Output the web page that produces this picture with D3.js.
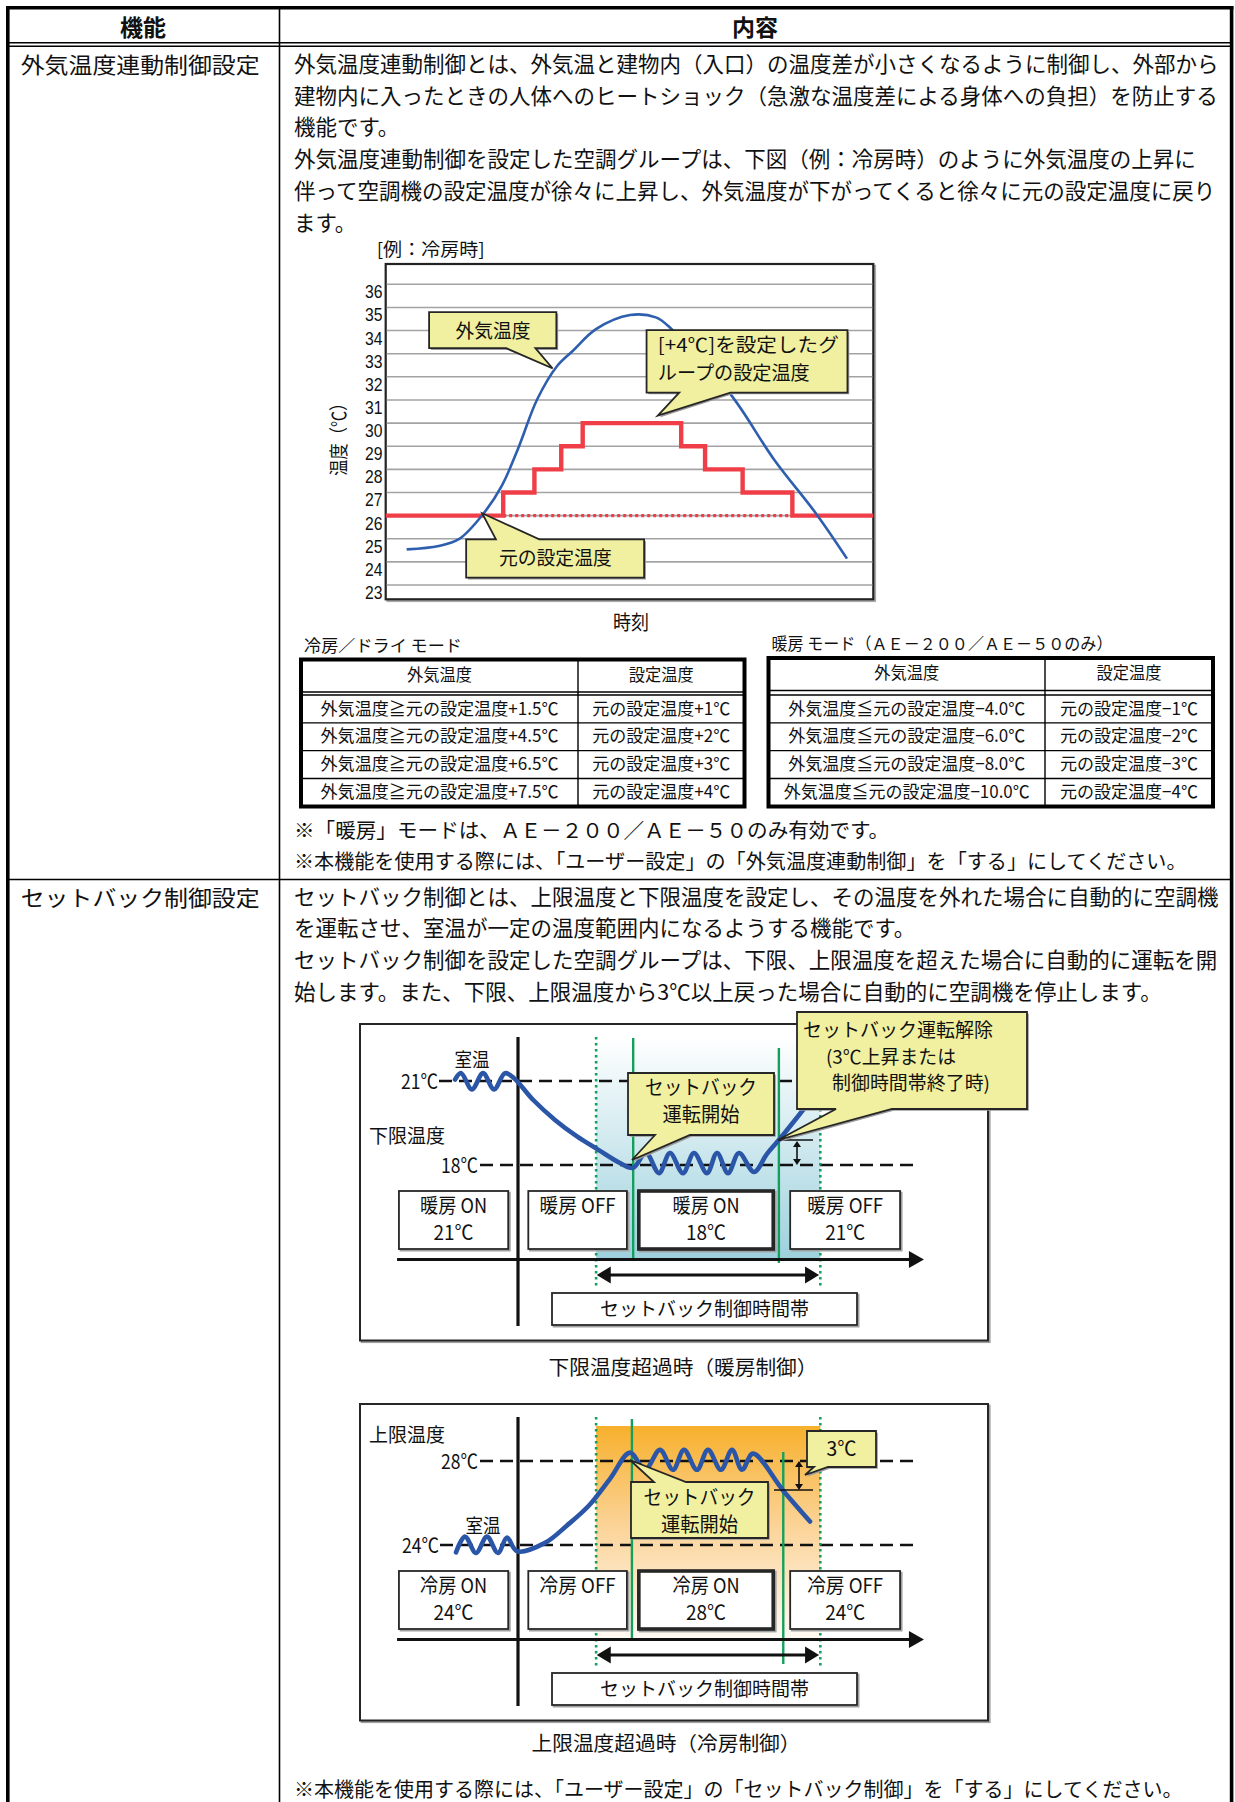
<!DOCTYPE html>
<html><head><meta charset="utf-8">
<script src="https://cdn.jsdelivr.net/npm/d3@7/dist/d3.min.js"></script>
<style>
html,body{margin:0;padding:0;background:#fff;}
svg{display:block}
text{font-family:"Noto Sans CJK JP","Noto Sans",sans-serif;fill:#111}
</style></head>
<body>
<svg id="page" width="1235" height="1802"></svg>
<script>
// ================= DATA =================
const headerLabels = ["機能", "内容"];
const featureNames = ["外気温度連動制御設定", "セットバック制御設定"];
const outdoorIntro = [
  "外気温度連動制御とは、外気温と建物内（入口）の温度差が小さくなるように制御し、外部から",
  "建物内に入ったときの人体へのヒートショック（急激な温度差による身体への負担）を防止する",
  "機能です。",
  "外気温度連動制御を設定した空調グループは、下図（例：冷房時）のように外気温度の上昇に",
  "伴って空調機の設定温度が徐々に上昇し、外気温度が下がってくると徐々に元の設定温度に戻り",
  "ます。"
];
const chartTitle = "[例：冷房時]";
const tempTicks = [23, 24, 25, 26, 27, 28, 29, 30, 31, 32, 33, 34, 35, 36];
const yAxisTitle = "温度（℃）";
const xAxisTitle = "時刻";
// outdoor temperature curve (time in % of chart width, ℃)
const outdoorTime = [4.3, 10.9, 15.0, 19.8, 23.8, 27.1, 31.1, 35.2, 38.4, 43.2, 50.1, 55.4, 58.6, 70.7, 79.6, 88.5, 94.6];
const outdoorTemp = [24.54, 24.69, 24.98, 26.02, 27.29, 28.87, 31.04, 32.48, 33.13, 34.07, 34.67, 34.57, 34.07, 31.25, 28.44, 26.02, 24.14];
// group set temperature (+4℃ setting), step after
const setTime = [0, 24.1, 30.5, 36.0, 40.4, 60.6, 65.5, 73.2, 83.4, 100];
const setTemp = [26, 27, 28, 29, 30, 29, 28, 27, 26, 26];
const baseTemp = 26;
const calloutOutdoor = ["外気温度"];
const calloutGroup = ["[+4℃]を設定したグ", "ループの設定温度"];
const calloutBase = ["元の設定温度"];

const coolModeLabel = "冷房／ドライ モード";
const heatModeLabel = "暖房 モード（ＡＥ－２００／ＡＥ－５０のみ）";
const tableCols = ["外気温度", "設定温度"];
const coolConds = ["外気温度≧元の設定温度+1.5℃", "外気温度≧元の設定温度+4.5℃", "外気温度≧元の設定温度+6.5℃", "外気温度≧元の設定温度+7.5℃"];
const coolSets = ["元の設定温度+1℃", "元の設定温度+2℃", "元の設定温度+3℃", "元の設定温度+4℃"];
const heatConds = ["外気温度≦元の設定温度−4.0℃", "外気温度≦元の設定温度−6.0℃", "外気温度≦元の設定温度−8.0℃", "外気温度≦元の設定温度−10.0℃"];
const heatSets = ["元の設定温度−1℃", "元の設定温度−2℃", "元の設定温度−3℃", "元の設定温度−4℃"];
const outdoorNotes = [
  "※「暖房」モードは、ＡＥ－２００／ＡＥ－５０のみ有効です。",
  "※本機能を使用する際には、「ユーザー設定」の「外気温度連動制御」を「する」にしてください。"
];
const setbackIntro = [
  "セットバック制御とは、上限温度と下限温度を設定し、その温度を外れた場合に自動的に空調機",
  "を運転させ、室温が一定の温度範囲内になるようする機能です。",
  "セットバック制御を設定した空調グループは、下限、上限温度を超えた場合に自動的に運転を開",
  "始します。また、下限、上限温度から3℃以上戻った場合に自動的に空調機を停止します。"
];
// heating (lower limit) diagram
const heatLevels = [21, 18];
const heatLevelLabels = ["21℃", "18℃"];
const heatRoomTime = [15.13, 16.08, 17.83, 19.59, 21.34, 23.09, 24.52, 27.55, 31.05, 34.55, 37.90, 41.40, 43.47, 45.54, 47.61, 49.36, 51.43, 53.18, 55.25, 56.85, 58.60, 60.35, 62.74, 64.81, 66.72, 71.02];
const heatRoomTemp = [21.05, 21.28, 20.7, 21.28, 20.7, 21.28, 21.1, 20.33, 19.61, 19.02, 18.55, 18.07, 17.9, 18.43, 17.71, 18.43, 17.71, 18.43, 17.71, 18.43, 17.71, 18.43, 17.75, 18.4, 18.9, 20.1];
const heatStateTop = ["暖房 ON", "暖房 OFF", "暖房 ON", "暖房 OFF"];
const heatStateBottom = ["21℃", "", "18℃", "21℃"];
const heatCalloutStart = ["セットバック", "運転開始"];
const heatCalloutEnd = ["セットバック運転解除", "(3℃上昇または", "制御時間帯終了時)"];
const heatCaption = "下限温度超過時（暖房制御）";
// cooling (upper limit) diagram
const coolLevels = [28, 24];
const coolLevelLabels = ["28℃", "24℃"];
const coolRoomTime = [15.29, 16.72, 18.47, 20.22, 21.97, 23.41, 25.0, 29.46, 32.96, 36.46, 39.81, 43.0, 45.38, 47.77, 49.84, 51.59, 53.66, 55.41, 57.48, 59.24, 60.83, 62.58, 67.36, 71.66];
const coolRoomTemp = [23.65, 24.4, 23.62, 24.4, 23.62, 24.35, 23.7, 24.1, 24.93, 25.88, 27.15, 28.4, 27.58, 28.53, 27.58, 28.53, 27.58, 28.53, 27.58, 28.53, 27.58, 28.35, 26.6, 25.12];
const coolStateTop = ["冷房 ON", "冷房 OFF", "冷房 ON", "冷房 OFF"];
const coolStateBottom = ["24℃", "", "28℃", "24℃"];
const coolCalloutStart = ["セットバック", "運転開始"];
const coolCalloutDiff = ["3℃"];
const coolCaption = "上限温度超過時（冷房制御）";
const roomLabel = "室温";
const lowerLabel = "下限温度";
const upperLabel = "上限温度";
const periodLabel = "セットバック制御時間帯";
const setbackNote = "※本機能を使用する際には、「ユーザー設定」の「セットバック制御」を「する」にしてください。";

// ================= HELPERS =================
const svg = d3.select("#page");
const defs = svg.append("defs");
const YELLOW = "#f0f0a0";
const YOFF = -1.8;

function T(g, x, y, s, o = {}) {
  const t = g.append("text").attr("x", x).attr("y", y + YOFF)
    .attr("dominant-baseline", "central")
    .attr("font-size", o.size || 21.5)
    .attr("text-anchor", o.anchor || "start")
    .text(s);
  if (o.len) t.attr("textLength", o.len).attr("lengthAdjust", "spacingAndGlyphs");
  if (o.weight) t.attr("font-weight", o.weight);
  if (o.family) t.style("font-family", o.family);
  if (o.rotate) t.attr("transform", `rotate(${o.rotate},${x},${y + YOFF})`);
  return t;
}
function L(g, x1, y1, x2, y2, stroke, w, dash) {
  const l = g.append("line").attr("x1", x1).attr("y1", y1).attr("x2", x2).attr("y2", y2)
    .attr("stroke", stroke).attr("stroke-width", w);
  if (dash) l.attr("stroke-dasharray", dash);
  return l;
}
function box(g, x0, y0, x1, y1, sw, fill, shadow = true) {
  if (shadow) g.append("rect").attr("x", x0 + 1.6).attr("y", y0 + 1.6).attr("width", x1 - x0).attr("height", y1 - y0)
    .attr("fill", "none").attr("stroke", "#a0a0a0").attr("stroke-width", sw);
  return g.append("rect").attr("x", x0).attr("y", y0).attr("width", x1 - x0).attr("height", y1 - y0)
    .attr("fill", fill || "#fff").attr("stroke", "#262626").attr("stroke-width", sw);
}
function calloutPath(x0, y0, x1, y1, edge, b0, b1, tx, ty) {
  const p = edge === "bottom"
    ? [[x0, y0], [x1, y0], [x1, y1], [b1, y1], [tx, ty], [b0, y1], [x0, y1]]
    : [[x0, y0], [b0, y0], [tx, ty], [b1, y0], [x1, y0], [x1, y1], [x0, y1]];
  return "M" + p.map(d => d.join(",")).join("L") + "Z";
}
function callout(g, x0, y0, x1, y1, edge, b0, b1, tx, ty) {
  const d = calloutPath(x0, y0, x1, y1, edge, b0, b1, tx, ty);
  g.append("path").attr("d", d).attr("transform", "translate(1.8,1.8)").attr("fill", "#9a9a9a");
  g.append("path").attr("d", d).attr("fill", YELLOW).attr("stroke", "#262626").attr("stroke-width", 1.8);
}
function tri(g, tipX, tipY, dir, len, half) {
  let p;
  if (dir === "right") p = [[tipX, tipY], [tipX - len, tipY - half], [tipX - len, tipY + half]];
  if (dir === "left") p = [[tipX, tipY], [tipX + len, tipY - half], [tipX + len, tipY + half]];
  if (dir === "up") p = [[tipX, tipY], [tipX - half, tipY + len], [tipX + half, tipY + len]];
  if (dir === "down") p = [[tipX, tipY], [tipX - half, tipY - len], [tipX + half, tipY - len]];
  g.append("path").attr("d", "M" + p.map(d => d.join(",")).join("L") + "Z").attr("fill", "#111");
}

// ================= PAGE TABLE =================
const page = svg.append("g");
L(page, 7.8, 6, 7.8, 1802, "#000", 3.6);
L(page, 1231.6, 6, 1231.6, 1802, "#000", 3.6);
L(page, 6, 7.8, 1233.4, 7.8, "#000", 3.6);
L(page, 279.5, 9, 279.5, 1802, "#000", 1.6);
L(page, 9, 42.8, 1230, 42.8, "#000", 1.4);
L(page, 9, 46.2, 1230, 46.2, "#000", 1.4);
L(page, 9, 879.5, 1230, 879.5, "#000", 1.6);
T(page, 143, 27.5, headerLabels[0], { size: 23, anchor: "middle", weight: 700 });
T(page, 755, 27.5, headerLabels[1], { size: 23, anchor: "middle", weight: 700 });
T(page, 20.7, 64.5, featureNames[0], { size: 22, len: 239 });
T(page, 20.7, 897.5, featureNames[1], { size: 22, len: 239 });
const lineH = 31.7;
outdoorIntro.forEach((s, i) => T(page, 294, 64.3 + i * lineH, s));
T(page, 294, 830.6, outdoorNotes[0], { size: 20.6 });
T(page, 294, 862.7, outdoorNotes[1], { size: 20.1 });
setbackIntro.forEach((s, i) => T(page, 294, 897 + i * lineH, s));
T(page, 294, 1790, setbackNote, { size: 20 });

// ================= CHART 1 =================
const c1 = svg.append("g");
const x = d3.scaleLinear().domain([0, 100]).range([385.7, 873.3]);
const y = d3.scaleLinear().domain([23, 36]).range([585, 284.3]);
T(c1, 376.7, 249.5, chartTitle, { size: 18, len: 108 });
c1.append("rect").attr("x", 387.5).attr("y", 265.8).attr("width", x(100) - x(0)).attr("height", 335.3)
  .attr("fill", "none").attr("stroke", "#aaa").attr("stroke-width", 2);
c1.append("rect").attr("x", x(0)).attr("y", 264).attr("width", x(100) - x(0)).attr("height", 335.3)
  .attr("fill", "#fff").attr("stroke", "#222").attr("stroke-width", 2.2);
c1.selectAll(".grid").data(tempTicks).join("line").attr("class", "grid")
  .attr("x1", x(0) + 1).attr("x2", x(100) - 1).attr("y1", d => y(d)).attr("y2", d => y(d))
  .attr("stroke", "#a3a3a3").attr("stroke-width", 1.6);
c1.selectAll(".tick").data(tempTicks).join("text").attr("class", "tick")
  .attr("x", 382.5).attr("y", d => y(d) + 7.5).attr("text-anchor", "end").attr("dominant-baseline", "central")
  .style("font-family", '"Liberation Sans", Arial, sans-serif')
  .attr("font-size", 18.5).attr("textLength", 17.5).attr("lengthAdjust", "spacingAndGlyphs").text(d => d);
T(c1, 338, 437, yAxisTitle, { size: 19, anchor: "middle", rotate: -90, len: 81 });
T(c1, 631, 623.5, xAxisTitle, { size: 20, anchor: "middle", len: 36 });
// red dotted baseline
L(c1, x(setTime[1]), y(baseTemp), x(setTime[8]), y(baseTemp), "#ef3e48", 3.2, "3,3");
// red step
c1.append("path").datum(setTime.map((t, i) => [t, setTemp[i]]))
  .attr("d", d3.line().x(d => x(d[0])).y(d => y(d[1])).curve(d3.curveStepAfter))
  .attr("fill", "none").attr("stroke", "#ef3e48").attr("stroke-width", 4.4);
// blue outdoor
c1.append("path").datum(outdoorTime.map((t, i) => [t, outdoorTemp[i]]))
  .attr("d", d3.line().x(d => x(d[0])).y(d => y(d[1])).curve(d3.curveCatmullRom))
  .attr("fill", "none").attr("stroke", "#2e5fae").attr("stroke-width", 2.6);
// callouts
callout(c1, x(8.9), y(34.8), x(35.0), y(33.24), "bottom", x(24.7), x(30.7), x(34.2), y(32.37));
T(c1, x(22.0), y(33.97), calloutOutdoor[0], { size: 19, anchor: "middle", len: 75 });
callout(c1, x(53.5), y(34.02), x(94.7), y(31.32), "bottom", x(60.2), x(70.7), x(55.8), y(30.32));
T(c1, x(55.8), y(33.35), calloutGroup[0], { size: 19, len: 181 });
T(c1, x(55.8), y(32.16), calloutGroup[1], { size: 19, len: 152 });
callout(c1, x(16.5), y(24.97), x(53.0), y(23.32), "top", x(22.6), x(31.5), x(19.8), y(26.1));
T(c1, x(34.8), y(24.15), calloutBase[0], { size: 19, anchor: "middle", len: 113 });

// ================= TABLES =================
function drawTable(x0, x1, xd, top, label, conds, sets, condLens) {
  const g = svg.append("g");
  T(g, x0 + 3, top - 13, label.text, { size: 16.5, len: label.len });
  const rows = [695, 722.8, 750.6, 778.5, 806.5];
  L(g, x0, top + 32.5, x1, top + 32.5, "#000", 1.3);
  L(g, x0, 695, x1, 695, "#000", 1.3);
  rows.slice(1, 4).forEach(r => L(g, x0, r, x1, r, "#000", 1.3));
  L(g, xd, top, xd, 806.5, "#000", 1.4);
  g.append("rect").attr("x", x0).attr("y", top).attr("width", x1 - x0).attr("height", 806.5 - top)
    .attr("fill", "none").attr("stroke", "#000").attr("stroke-width", 4);
  const hy = (top + top + 32.5) / 2;
  T(g, (x0 + xd) / 2, hy, tableCols[0], { size: 16.5, anchor: "middle", len: 65 });
  T(g, (xd + x1) / 2, hy, tableCols[1], { size: 16.5, anchor: "middle", len: 65 });
  conds.forEach((s, i) => {
    const cy = (rows[i] + rows[i + 1]) / 2;
    T(g, (x0 + xd) / 2, cy, s, { size: 17.5, anchor: "middle", len: condLens[i] });
    T(g, (xd + x1) / 2, cy, sets[i], { size: 17.5, anchor: "middle", len: 138 });
  });
}
drawTable(301, 744.5, 578, 659.5, { text: coolModeLabel, len: 158 }, coolConds, coolSets, [238, 238, 238, 238]);
drawTable(768.5, 1213, 1045, 658, { text: heatModeLabel, len: 341 }, heatConds, heatSets, [237, 237, 237, 246]);

// ================= SETBACK DIAGRAMS =================
const sx = d3.scaleLinear().domain([0, 100]).range([360, 988]);
const gh = defs.append("linearGradient").attr("id", "heatGrad").attr("x1", 0).attr("y1", 0).attr("x2", 0).attr("y2", 1);
gh.append("stop").attr("offset", "0%").attr("stop-color", "#ffffff");
gh.append("stop").attr("offset", "100%").attr("stop-color", "#9dd1dd");
const gc = defs.append("linearGradient").attr("id", "coolGrad").attr("x1", 0).attr("y1", 0).attr("x2", 0).attr("y2", 1);
gc.append("stop").attr("offset", "0%").attr("stop-color", "#f7b02c");
gc.append("stop").attr("offset", "45%").attr("stop-color", "#fbd294");
gc.append("stop").attr("offset", "100%").attr("stop-color", "#fffaf5");

function drawSetback(cfg) {
  const g = svg.append("g");
  const top = cfg.top, dy = top - 1024;
  const ty = d3.scaleLinear().domain(cfg.levels).range(cfg.levelY);
  box(g, sx(0), top, sx(100), top + 316.5, 2);
  // gradient zone
  g.append("rect").attr("x", sx(37.6)).attr("y", cfg.gradTop).attr("width", sx(73.3) - sx(37.6))
    .attr("height", 1259.5 + dy - cfg.gradTop).attr("fill", `url(#${cfg.grad})`);
  // dashed levels
  L(g, cfg.dash[0][0], ty(cfg.levels[0]), cfg.dash[0][1], ty(cfg.levels[0]), "#111", 2.6, "13,7");
  L(g, cfg.dash[1][0], ty(cfg.levels[1]), cfg.dash[1][1], ty(cfg.levels[1]), "#111", 2.6, "13,7");
  // green lines
  L(g, sx(37.6), 1037 + dy, sx(37.6), 1288 + dy, "#14a05c", 2.6, "2.5,3.5");
  L(g, sx(73.3), 1037 + dy, sx(73.3), 1288 + dy, "#14a05c", 2.6, "2.5,3.5");
  L(g, sx(cfg.green[0]), cfg.greenY[0][0], sx(cfg.green[0]), cfg.greenY[0][1], "#14a05c", 2.4);
  L(g, sx(cfg.green[1]), cfg.greenY[1][0], sx(cfg.green[1]), cfg.greenY[1][1], "#14a05c", 2.4);
  // axes
  L(g, sx(25.16), 1037 + dy, sx(25.16), 1326 + dy, "#111", 3.2);
  L(g, sx(5.9), 1259.5 + dy, sx(87.6), 1259.5 + dy, "#111", 3.2);
  tri(g, sx(89.8), 1259.5 + dy, "right", 15, 8.5);
  // room temperature
  g.append("path").datum(cfg.roomT.map((t, i) => [t, cfg.roomV[i]]))
    .attr("d", d3.line().x(d => sx(d[0])).y(d => ty(d[1])).curve(d3.curveCatmullRom))
    .attr("fill", "none").attr("stroke", "#2b56a8").attr("stroke-width", 4.6).attr("stroke-linecap", "round");
  // small 3℃ arrow
  const a = cfg.small;
  L(g, a.tick[0], a.tickY, a.tick[1], a.tickY, "#111", 1.6);
  L(g, a.x, a.y0 + 5, a.x, a.y1 - 5, "#111", 1.6);
  tri(g, a.x, a.y0, "up", 6, 4);
  tri(g, a.x, a.y1, "down", 6, 4);
  // labels
  T(g, cfg.roomLabelX, cfg.roomLabelY, roomLabel, { size: 19, anchor: "middle", len: 35 });
  T(g, cfg.levelLabelX[0], ty(cfg.levels[0]) + 1, cfg.levelLabels[0], { size: 20, anchor: "end", len: 37 });
  T(g, cfg.levelLabelX[1], ty(cfg.levels[1]) + 1, cfg.levelLabels[1], { size: 20, anchor: "end", len: 37 });
  T(g, 369, cfg.limitY, cfg.limitLabel, { size: 19, len: 76 });
  // state boxes
  const bx = [[6.2, 23.6], [26.8, 42.5], [44.4, 65.8], [68.5, 86.0]];
  bx.forEach((b, i) => {
    box(g, sx(b[0]), 1191 + dy, sx(b[1]), 1249 + dy, i === 2 ? 3.6 : 1.8);
    const cxm = (sx(b[0]) + sx(b[1])) / 2;
    T(g, cxm, 1206 + dy, cfg.stateTop[i], { size: 20, anchor: "middle", len: cfg.stateTop[i].includes("OFF") ? 76 : 67 });
    if (cfg.stateBottom[i]) T(g, cxm, 1233 + dy, cfg.stateBottom[i], { size: 20, anchor: "middle", len: 40 });
  });
  // period arrow
  L(g, sx(39.5), 1275 + dy, sx(71.3), 1275 + dy, "#111", 3);
  tri(g, sx(37.7), 1275 + dy, "left", 14, 8.5);
  tri(g, sx(73.1), 1275 + dy, "right", 14, 8.5);
  box(g, 552, 1293 + dy, 857, 1325 + dy, 1.8);
  T(g, 704.5, 1309.5 + dy, periodLabel, { size: 19, anchor: "middle", len: 209 });
  T(g, cfg.caption.x, cfg.caption.y, cfg.caption.text, { size: 20, anchor: "middle", len: 269 });
  return g;
}

const hg = drawSetback({
  top: 1024, levels: heatLevels, levelY: [1081, 1165], grad: "heatGrad", gradTop: 1036,
  dash: [[439, 916], [480, 916]], green: [43.5, 66.7], greenY: [[1038, 1258], [1048, 1263]],
  roomT: heatRoomTime, roomV: heatRoomTemp,
  small: { x: 797, y0: 1141, y1: 1165, tick: [778, 813], tickY: 1140 },
  roomLabelX: 472, roomLabelY: 1060, levelLabels: heatLevelLabels, levelLabelX: [438, 478],
  limitLabel: lowerLabel, limitY: 1136,
  stateTop: heatStateTop, stateBottom: heatStateBottom,
  caption: { text: heatCaption, x: 683, y: 1368 }
});
callout(hg, 628, 1073, 774, 1135, "bottom", 655, 690, 632, 1160);
T(hg, 701, 1088, heatCalloutStart[0], { size: 20, anchor: "middle", len: 112 });
T(hg, 701, 1115, heatCalloutStart[1], { size: 20, anchor: "middle", len: 77 });
callout(hg, 797, 1012, 1027, 1109, "bottom", 836, 892, 778, 1140);
T(hg, 803, 1030, heatCalloutEnd[0], { size: 19, len: 190 });
T(hg, 826, 1057, heatCalloutEnd[1], { size: 19, len: 130 });
T(hg, 832, 1083, heatCalloutEnd[2], { size: 19, len: 158 });

const cg = drawSetback({
  top: 1404, levels: coolLevels, levelY: [1461, 1545], grad: "coolGrad", gradTop: 1426,
  dash: [[480, 914], [440, 918]], green: [43.3, 67.4], greenY: [[1419, 1640], [1452, 1664]],
  roomT: coolRoomTime, roomV: coolRoomTemp,
  small: { x: 799, y0: 1461, y1: 1490, tick: [774, 813], tickY: 1490 },
  roomLabelX: 483, roomLabelY: 1526, levelLabels: coolLevelLabels, levelLabelX: [478, 439],
  limitLabel: upperLabel, limitY: 1435,
  stateTop: coolStateTop, stateBottom: coolStateBottom,
  caption: { text: coolCaption, x: 666, y: 1744 }
});
callout(cg, 807, 1431, 876, 1467, "bottom", 814, 828, 805, 1475);
T(cg, 841.5, 1449, coolCalloutDiff[0], { size: 20, anchor: "middle", len: 30 });
callout(cg, 631, 1482, 768, 1538, "top", 654, 686, 630, 1460);
T(cg, 699.5, 1498, coolCalloutStart[0], { size: 20, anchor: "middle", len: 112 });
T(cg, 699.5, 1525, coolCalloutStart[1], { size: 20, anchor: "middle", len: 77 });
</script>
</body></html>
